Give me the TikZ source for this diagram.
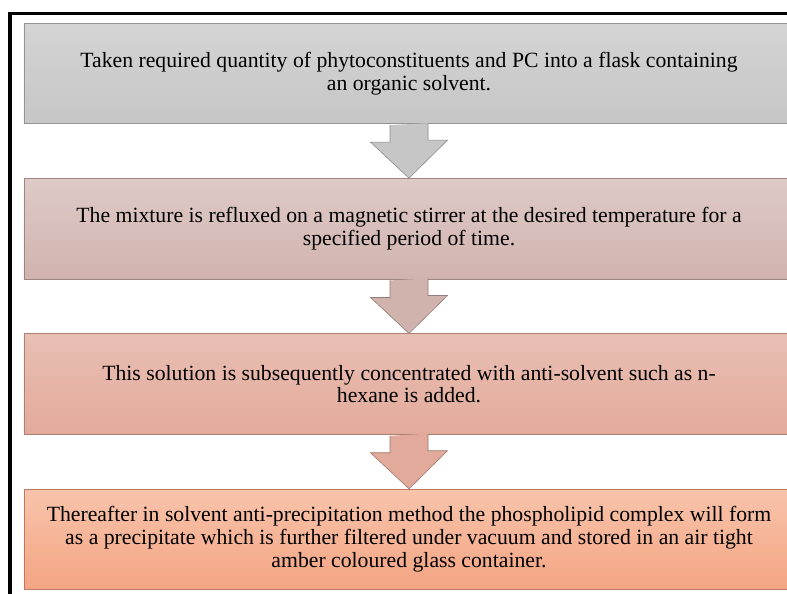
\documentclass[tikz,border=0pt]{standalone}
\usepackage{fontspec}
\setmainfont{Liberation Serif}
\usetikzlibrary{positioning}

\definecolor{grayTop}{HTML}{D4D4D4}
\definecolor{grayBot}{HTML}{C6C6C6}
\definecolor{roseTop}{HTML}{DECAC7}
\definecolor{roseBot}{HTML}{D1B3AE}
\definecolor{salmonTop}{HTML}{E9BFB4}
\definecolor{salmonBot}{HTML}{E2AA9A}
\definecolor{peachTop}{HTML}{F8C4AB}
\definecolor{peachBot}{HTML}{F4A482}

\begin{document}
\begin{tikzpicture}[x=1bp,y=-1bp,
	every node/.style={align=center,font=\fontsize{21.8}{23}\selectfont},
	stepbox/.style={draw=#1Bot!75!black,line width=0.8bp,top color=#1Top,bottom color=#1Bot,
		minimum width=770bp,minimum height=100.5bp,inner sep=0pt},
	node distance=54bp]
	\useasboundingbox (0,0) rectangle (787,594);
	\clip (0,0) rectangle (787,594);
	\fill[white] (0,0) rectangle (787,594);
	\node[stepbox=gray] (taken) at (409,73.5)
		{Taken required quantity of phytoconstituents and PC into a flask containing\\ an organic solvent.};
	\node[stepbox=rose,below=of taken] (reflux)
		{The mixture is refluxed on a magnetic stirrer at the desired temperature for a\\ specified period of time.};
	\node[stepbox=salmon,below=of reflux] (hexane)
		{This solution is subsequently concentrated with anti-solvent such as n-\\ hexane is added.};
	\node[stepbox=peach,below=of hexane] (precip)
		{Thereafter in solvent anti-precipitation method the phospholipid complex will form\\ as a precipitate which is further filtered under vacuum and stored in an air tight\\ amber coloured glass container.};
	% block arrows between the steps
	\foreach \from/\to/\col in {taken/reflux/gray,reflux/hexane/rose,hexane/precip/salmon}
		\filldraw[fill=\col Bot,draw=\col Bot!70!black,line width=0.6bp]
			([xshift=-19bp,yshift=-1bp]\from.south) -- ++(0,17) -- ++(-19.5,0) -- (\to.north)
			-- ++(38.5,-38) -- ++(-19.5,0) -- ++(0,-17);
	% frame
	\draw[line width=3.5bp] (10,594) -- (10,13.5) -- (787,13.5);
\end{tikzpicture}
\end{document}
